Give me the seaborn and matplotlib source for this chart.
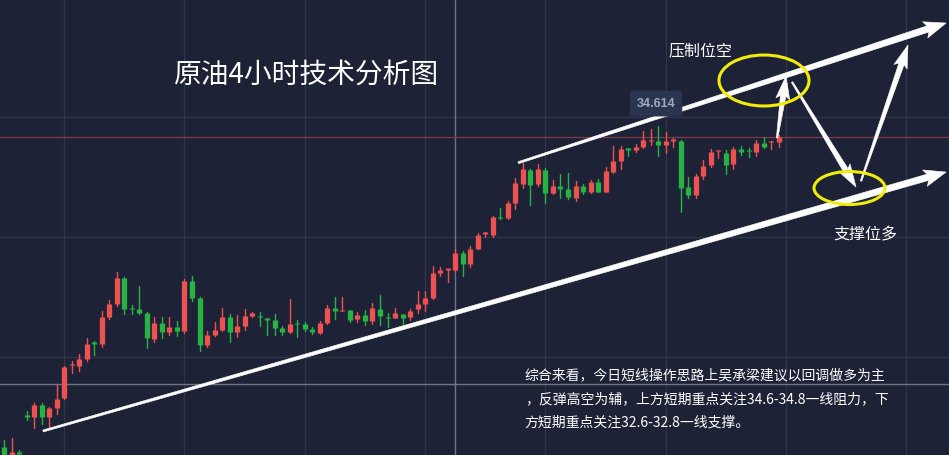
# crude oil 4h chart with channel drawing
import numpy as np
import pandas as pd
import matplotlib.pyplot as plt
import seaborn as sns
from matplotlib.patches import Ellipse, Polygon

# OHLC, one entry per 4h candle
opens = [32.030, 31.910, 31.985, 32.300, 32.281, 32.381, 32.281, 32.353, 32.437, 32.710,
         32.708, 32.764, 32.903, 32.887, 33.112, 33.220, 33.442, 33.185, 33.181, 33.145,
         32.931, 33.062, 32.992, 33.031, 33.000, 33.414, 33.275, 32.881, 32.964, 33.006,
         33.114, 32.992, 33.039, 33.122, 33.122, 33.102, 33.089, 33.020, 32.992, 33.068,
         33.053, 33.014, 32.983, 33.066, 33.189, 33.164, 33.172, 33.097, 33.133, 33.081,
         33.181, 33.117, 33.108, 33.136, 33.112, 33.178, 33.222, 33.275, 33.483, 33.508,
         33.506, 33.645, 33.556, 33.681, 33.803, 33.795, 33.945, 33.936, 34.061, 34.222,
         34.339, 34.222, 34.339, 34.145, 34.206, 34.178, 34.103, 34.206, 34.158, 34.242,
         34.158, 34.325, 34.417, 34.520, 34.506, 34.528, 34.581, 34.581, 34.551, 34.583,
         34.583, 34.197, 34.135, 34.289, 34.381, 34.495, 34.481, 34.389, 34.517, 34.500,
         34.492, 34.567, 34.570, 34.575]
highs = [32.089, 32.106, 32.006, 32.331, 32.400, 32.400, 32.367, 32.547, 32.706, 32.747,
         32.803, 32.942, 32.914, 33.164, 33.256, 33.492, 33.450, 33.214, 33.375, 33.158,
         33.112, 33.117, 33.117, 33.083, 33.431, 33.453, 33.281, 32.998, 33.070, 33.186,
         33.142, 33.131, 33.178, 33.158, 33.156, 33.106, 33.136, 33.042, 33.262, 33.089,
         33.070, 33.033, 33.083, 33.214, 33.283, 33.278, 33.175, 33.156, 33.172, 33.228,
         33.297, 33.145, 33.192, 33.140, 33.181, 33.333, 33.333, 33.541, 33.528, 33.516,
         33.678, 33.667, 33.708, 33.817, 33.826, 33.958, 34.020, 34.081, 34.270, 34.400,
         34.345, 34.389, 34.358, 34.256, 34.306, 34.312, 34.250, 34.222, 34.256, 34.261,
         34.367, 34.542, 34.542, 34.525, 34.553, 34.664, 34.678, 34.708, 34.658, 34.603,
         34.589, 34.277, 34.306, 34.420, 34.514, 34.510, 34.506, 34.533, 34.539, 34.522,
         34.589, 34.611, 34.585, 34.631]
lows = [31.880, 31.880, 31.956, 32.253, 32.187, 32.222, 32.195, 32.306, 32.431, 32.650,
        32.664, 32.747, 32.798, 32.867, 33.097, 33.208, 33.136, 33.139, 33.140, 32.858,
        32.903, 32.942, 32.964, 32.958, 32.978, 33.250, 32.831, 32.867, 32.958, 33.000,
        32.908, 32.950, 33.006, 33.117, 33.042, 32.964, 32.964, 32.964, 32.983, 32.945,
        32.998, 32.972, 32.972, 33.053, 33.095, 33.162, 33.075, 33.070, 33.047, 33.053,
        33.047, 33.033, 33.103, 33.047, 33.089, 33.150, 33.164, 33.264, 33.456, 33.403,
        33.500, 33.458, 33.528, 33.678, 33.778, 33.783, 33.931, 33.928, 34.014, 34.187,
        34.047, 34.206, 34.061, 34.139, 34.103, 34.097, 34.083, 34.139, 34.150, 34.153,
        34.153, 34.312, 34.347, 34.458, 34.491, 34.520, 34.545, 34.456, 34.485, 34.533,
        33.992, 34.110, 34.106, 34.261, 34.364, 34.443, 34.306, 34.345, 34.468, 34.451,
        34.460, 34.522, 34.518, 34.535]
closes = [31.906, 31.989, 31.976, 32.283, 32.381, 32.281, 32.353, 32.428, 32.700, 32.718,
          32.764, 32.887, 32.889, 33.112, 33.222, 33.442, 33.181, 33.177, 33.147, 32.937,
          33.062, 32.992, 33.031, 32.998, 33.414, 33.270, 32.881, 32.964, 33.006, 33.114,
          32.992, 33.039, 33.122, 33.150, 33.110, 33.093, 33.025, 32.986, 33.058, 33.056,
          33.014, 32.986, 33.064, 33.189, 33.164, 33.172, 33.089, 33.133, 33.078, 33.189,
          33.125, 33.106, 33.145, 33.108, 33.167, 33.220, 33.275, 33.478, 33.506, 33.514,
          33.650, 33.556, 33.681, 33.797, 33.822, 33.945, 33.939, 34.061, 34.228, 34.345,
          34.214, 34.345, 34.150, 34.206, 34.181, 34.111, 34.206, 34.158, 34.242, 34.158,
          34.333, 34.417, 34.514, 34.506, 34.528, 34.589, 34.585, 34.548, 34.581, 34.589,
          34.189, 34.131, 34.289, 34.375, 34.492, 34.500, 34.381, 34.514, 34.492, 34.495,
          34.567, 34.531, 34.576, 34.614]

# hand-drawn analysis (candle index, price)
channel_x0 = [5.19, 68.39]
channel_y0 = [32.164, 34.400]
channel_x1 = [125.27, 125.27]
channel_y1 = [34.322, 35.564]
path_x0 = [102.8, 104.79, 113.96]
path_y0 = [34.606, 35.072, 34.247]
path_x1 = [103.99, 113.3, 120.21]
path_y1 = [35.122, 34.197, 35.381]
zone_x = [101.06, 112.43]
zone_y = [35.085, 34.189]
zone_w = [11.97, 9.44]
zone_h = [0.425, 0.275]

grid_x = [8, 24, 40, 56, 72, 88, 104, 120]
grid_y = [32.781, 33.781, 34.781]
cross_x = 60
cross_y = 32.556

title = "原油4小时技术分析图"
label_top = "压制位空"
label_bottom = "支撑位多"
comment = ["综合来看，今日短线操作思路上吴承梁建议以回调做多为主",
           "，反弹高空为辅，上方短期重点关注34.6-34.8一线阻力，下",
           "方短期重点关注32.6-32.8一线支撑。"]

BG = "#1e2236"
RED = "#ec5250"
GREEN = "#27b343"

sns.set_theme(style="dark", rc={"axes.facecolor": BG, "figure.facecolor": BG})
plt.rcParams["font.family"] = ["Noto Sans CJK SC", "DejaVu Sans"]

df = pd.DataFrame({"o": opens, "h": highs, "l": lows, "c": closes})
df["i"] = np.arange(len(df))
df["dir"] = np.where(df.c >= df.o, "up", "down")
pal = {"up": RED, "down": GREEN}

fig = plt.figure(figsize=(9.49, 4.55), dpi=100)
ax = fig.add_axes([0, 0, 1, 1])
ax.set_xlim(-0.53, 125.66)
ax.set_ylim(31.964, 35.756)

for gx in grid_x:
    ax.axvline(gx, color="#30364a", lw=0.9, zorder=0)
for gy in grid_y:
    ax.axhline(gy, color="#30364a", lw=0.9, zorder=0)
ax.axvline(cross_x, color="#6f7486", lw=1, zorder=0)
ax.axhline(cross_y, color="#6f7486", lw=1, zorder=0)
ax.axhline(closes[-1], color="#7c3c46", lw=0.9, zorder=1)

# wicks
wick = pd.concat([df[["i", "dir"]].assign(p=df.h), df[["i", "dir"]].assign(p=df.l)])
sns.lineplot(data=wick, x="i", y="p", hue="dir", units="i", estimator=None,
             palette=pal, lw=1.0, legend=False, ax=ax, zorder=2)

# bodies drawn as thick butt-capped segments
bot = np.minimum(df.o, df.c)
top = np.maximum(np.maximum(df.o, df.c), bot + 0.012)
body = pd.concat([df[["i", "dir"]].assign(p=bot), df[["i", "dir"]].assign(p=top)])
sns.lineplot(data=body, x="i", y="p", hue="dir", units="i", estimator=None,
             palette=pal, lw=3.8, solid_capstyle="butt", legend=False, ax=ax, zorder=3)

ax.set_axis_off()


def taper_arrow(p0, p1, w0, w1, hw, hl):
    # widths in pixels
    a = ax.transData.transform(p0)
    b = ax.transData.transform(p1)
    d = b - a
    u = d / np.hypot(*d)
    n = np.array([-u[1], u[0]])
    hb = b - u * hl
    pts = [a + n * w0 / 2, hb + n * w1 / 2, hb - u * 3 + n * hw / 2, b,
           hb - u * 3 - n * hw / 2, hb - n * w1 / 2, a - n * w0 / 2]
    ax.add_patch(Polygon(ax.transData.inverted().transform(pts), closed=True,
                         fc="white", ec="white", lw=0.4, zorder=5))


for k in range(len(channel_x0)):
    taper_arrow((channel_x0[k], channel_y0[k]), (channel_x1[k], channel_y1[k]), 2.0, 6.5, 17, 19)
for k in range(len(path_x0)):
    taper_arrow((path_x0[k], path_y0[k]), (path_x1[k], path_y1[k]), 1.5, 5.5, 14, 20)

for k in range(len(zone_x)):
    ax.add_patch(Ellipse((zone_x[k], zone_y[k]), zone_w[k], zone_h[k], fill=False,
                         ec="#f2ec0c", lw=2.2, zorder=6))

ax.text(86.7, 34.893, f"{closes[-1]:.3f}", color="#a3a9b8", fontsize=9, fontweight="bold",
        family="Liberation Sans", ha="center", va="center", zorder=6,
        bbox=dict(boxstyle="round,pad=0.55,rounding_size=0.25", fc="#2b3550", ec="none"))

ax.text(0.182, 0.835, title, transform=ax.transAxes, color="white", fontsize=20,
        ha="left", va="center", zorder=7)
ax.text(0.704, 0.888, label_top, transform=ax.transAxes, color="white", fontsize=11.5,
        ha="left", va="center", zorder=7)
ax.text(0.878, 0.484, label_bottom, transform=ax.transAxes, color="white", fontsize=11.5,
        ha="left", va="center", zorder=7)
for k, line in enumerate(comment):
    ax.text(0.553, 0.176 - k * 0.0527, line, transform=ax.transAxes, color="white",
            fontsize=10, ha="left", va="center", zorder=7)

fig.savefig("out.png", dpi=100, facecolor=BG)
